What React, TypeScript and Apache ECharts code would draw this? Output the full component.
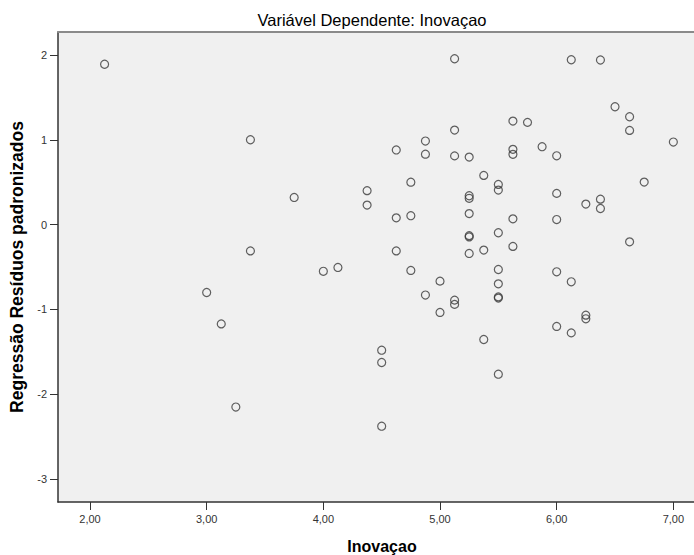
import React, { useEffect, useRef } from "react";
import * as echarts from "echarts";

const chartTitle = "Variável Dependente: Inovaçao";
const xAxisName = "Inovaçao";
const yAxisName = "Regressão Resíduos padronizados";
const xTicks = [2, 3, 4, 5, 6, 7];
const yTicks = [-3, -2, -1, 0, 1, 2];

const inovacao = [
  2.125, 3.375, 3.375, 3.0, 3.125, 3.25, 3.75, 4.0, 4.125, 4.375,
  4.375, 4.5, 4.5, 4.5, 4.625, 4.625, 4.625, 4.75, 4.75, 4.75,
  4.875, 4.875, 4.875, 5.0, 5.0, 5.125, 5.125, 5.125, 5.125, 5.125,
  5.25, 5.25, 5.25, 5.25, 5.25, 5.25, 5.25, 5.375, 5.375, 5.375,
  5.5, 5.5, 5.5, 5.5, 5.5, 5.5, 5.5, 5.5, 5.625, 5.625,
  5.625, 5.625, 5.625, 5.75, 5.875, 6.0, 6.0, 6.0, 6.0, 6.0,
  6.125, 6.125, 6.125, 6.25, 6.25, 6.25, 6.375, 6.375, 6.375, 6.5,
  6.625, 6.625, 6.625, 6.75, 7.0,
];
const residuos = [
  1.89, 1.0, -0.31, -0.8, -1.17, -2.15, 0.32, -0.55, -0.505, 0.4,
  0.23, -1.48, -1.625, -2.376, 0.88, 0.08, -0.31, 0.5, 0.105, -0.54,
  0.985, 0.83, -0.83, -0.666, -1.035, 1.955, 1.114, 0.81, -0.89, -0.94,
  0.796, 0.34, 0.31, 0.13, -0.13, -0.145, -0.34, 0.58, -0.3, -1.354,
  0.474, 0.407, -0.096, -0.529, -0.698, -0.852, -0.866, -1.763, 1.22, 0.887,
  0.828, 0.068, -0.257, 1.205, 0.918, 0.811, 0.368, 0.06, -0.556, -1.2,
  1.943, -0.674, -1.276, 0.242, -1.067, -1.11, 1.94, 0.3, 0.19, 1.389,
  1.271, 1.11, -0.203, 0.501, 0.973,
];

const fontFamily = "Arial, 'Liberation Sans', sans-serif";

export default function App() {
  const ref = useRef<HTMLDivElement>(null);
  useEffect(() => {
    if (!ref.current) return;
    const chart = echarts.init(ref.current, null, { renderer: "svg" });
    const points = inovacao.map((x, i) => [x, residuos[i]]);
    chart.setOption({
      animation: false,
      backgroundColor: "#ffffff",
      title: {
        text: chartTitle,
        left: 367,
        textAlign: "center",
        top: 6,
        textStyle: { fontFamily, fontSize: 16.5, fontWeight: "normal", color: "#000" },
      },
      grid: {
        left: 58,
        top: 32,
        right: 0,
        bottom: 53,
        show: true,
        backgroundColor: "#f0f0f0",
        borderWidth: 0,
        containLabel: false,
        outerBoundsMode: "none",
      },
      xAxis: [
        {
          type: "value",
          min: 1.7257,
          max: 7.177,
          name: xAxisName,
          nameLocation: "middle",
          nameGap: 36,
          nameTextStyle: { fontFamily, fontSize: 16, fontWeight: "bold", color: "#000", padding: [0, 0, 0, 12] },
          axisLine: { show: true, onZero: false, lineStyle: { color: "#333", width: 1.5 } },
          axisTick: { show: true, customValues: xTicks, length: 8, lineStyle: { color: "#333", width: 1 } },
          axisLabel: {
            customValues: xTicks,
            fontFamily,
            fontSize: 11,
            color: "#333",
            margin: 11,
            formatter: (v: number) => v.toFixed(2).replace(".", ","),
          },
          splitLine: { show: false },
        },
        {
          type: "value",
          position: "top",
          min: 1.7257,
          max: 7.177,
          axisLine: { show: true, onZero: false, lineStyle: { color: "#8a8a8a", width: 2 } },
          axisTick: { show: false },
          axisLabel: { show: false },
          splitLine: { show: false },
        },
      ],
      yAxis: {
        type: "value",
        min: -3.269,
        max: 2.27,
        name: yAxisName,
        nameLocation: "middle",
        nameGap: 32,
        nameTextStyle: { fontFamily, fontSize: 17.5, fontWeight: "bold", color: "#000" },
        axisLine: { show: true, onZero: false, lineStyle: { color: "#333", width: 1.5 } },
        axisTick: { show: true, customValues: yTicks, length: 8, lineStyle: { color: "#333", width: 1 } },
        axisLabel: {
          customValues: yTicks,
          fontFamily,
          fontSize: 11,
          color: "#333",
          margin: 11,
        },
        splitLine: { show: false },
      },
      series: [
        {
          type: "scatter",
          data: points,
          symbol: "circle",
          symbolSize: 8,
          itemStyle: { color: "transparent", borderColor: "#3a3a3a", borderWidth: 1.2 },
        },
      ],
    });
    return () => chart.dispose();
  }, []);
  return (
    <div
      ref={ref}
      style={{ position: "absolute", left: 0, top: 0, width: 694, height: 555 }}
    />
  );
}
